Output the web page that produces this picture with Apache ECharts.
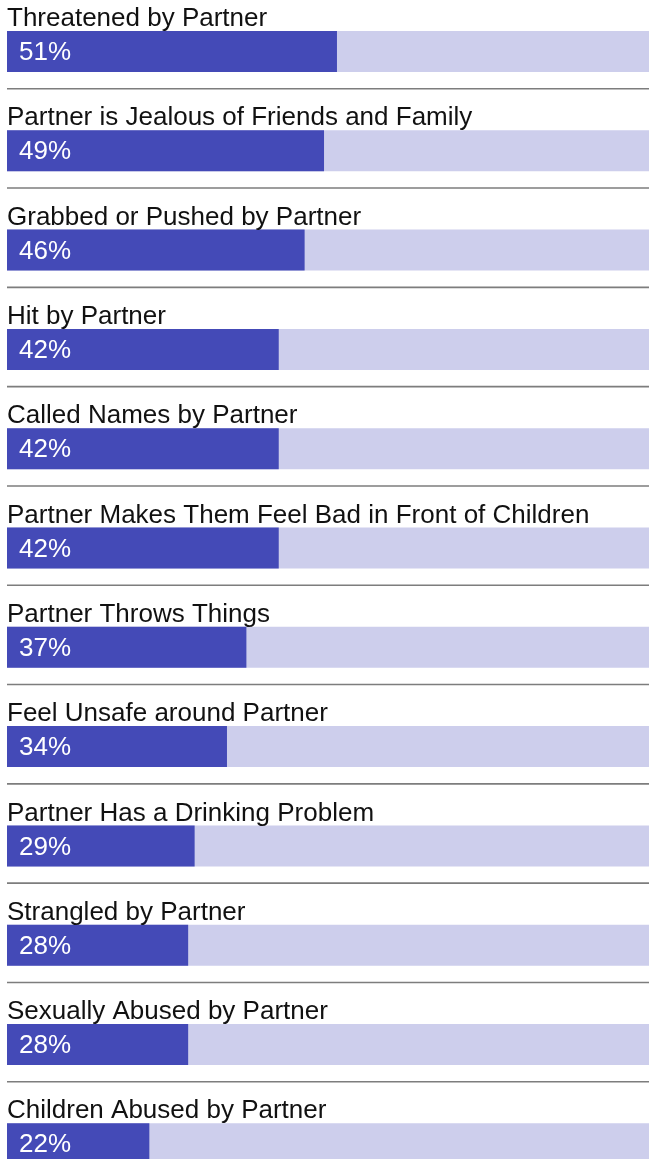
<!DOCTYPE html>
<html>
<head>
<meta charset="utf-8">
<style>
  html, body { margin: 0; padding: 0; background: #ffffff; overflow: hidden; }
  #chart { width: 660px; height: 1200px; }
</style>
<script src="https://cdn.jsdelivr.net/npm/echarts@6/dist/echarts.min.js"></script>
</head>
<body>
<div id="chart"></div>
<script>
// Share of respondents reporting each partner behaviour (%)
const categories = [
  'Threatened by Partner',
  'Partner is Jealous of Friends and Family',
  'Grabbed or Pushed by Partner',
  'Hit by Partner',
  'Called Names by Partner',
  'Partner Makes Them Feel Bad in Front of Children',
  'Partner Throws Things',
  'Feel Unsafe around Partner',
  'Partner Has a Drinking Problem',
  'Strangled by Partner',
  'Sexually Abused by Partner',
  'Children Abused by Partner'
];
const values = [51, 49, 46, 42, 42, 42, 37, 34, 29, 28, 28, 22];
const fullScale = categories.map(() => 100);

const FONT = '"Liberation Sans", Arial, sans-serif';

const chart = echarts.init(document.getElementById('chart'), null, { renderer: 'canvas' });

chart.setOption({
  animation: false,
  backgroundColor: '#ffffff',
  grid: { left: 7, top: 1.85, width: 647, height: 1191.6, containLabel: false },
  xAxis: { type: 'value', min: 0, max: 100, show: false },
  yAxis: { type: 'category', data: categories, inverse: true, show: false },
  series: [
    {
      // light full-width track, carrying the row title above it
      type: 'bar',
      data: fullScale,
      barWidth: 41,
      barGap: '-100%',
      silent: true,
      itemStyle: { color: '#CDCEEC' },
      label: {
        show: true,
        position: [0, 1],
        align: 'left',
        verticalAlign: 'bottom',
        formatter: (p) => p.name,
        color: '#111111',
        fontFamily: FONT,
        fontSize: 26
      }
    },
    {
      type: 'bar',
      data: values,
      barWidth: 41,
      barGap: '-100%',
      itemStyle: { color: '#444AB7' },
      label: {
        show: true,
        position: 'insideLeft',
        distance: 12,
        offset: [0, 1.5],
        formatter: '{c}%',
        color: '#ffffff',
        fontFamily: FONT,
        fontSize: 26
      }
    },
    {
      // thin rule under each row
      type: 'custom',
      data: categories.map((c) => [0, c]),
      encode: { x: 0, y: 1 },
      silent: true,
      renderItem: (params, api) => {
        const pt = api.coord([0, api.value(1)]);
        const band = api.size([0, 1])[1];
        const y = pt[1] + band / 2 - 12.4;
        const cs = params.coordSys;
        return {
          type: 'line',
          shape: { x1: cs.x, y1: y, x2: cs.x + cs.width, y2: y },
          style: { stroke: '#7d7d7d', lineWidth: 1.6 }
        };
      }
    }
  ]
});
</script>
</body>
</html>
